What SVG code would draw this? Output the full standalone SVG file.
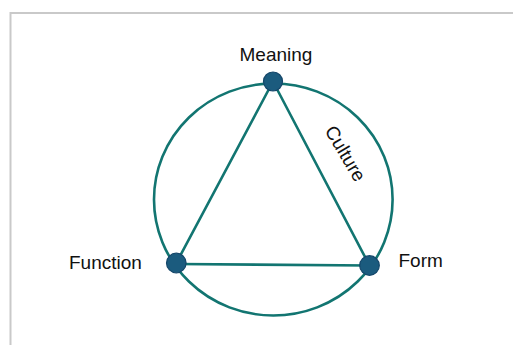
<svg xmlns="http://www.w3.org/2000/svg" width="513" height="345" viewBox="0 0 513 345">
  <style>
    .frame { fill: none; stroke: #c9c9c9; stroke-width: 2; }
    .ring { fill: none; stroke: #127571; stroke-width: 2.6; }
    .edge { stroke: #127571; stroke-width: 2.6; stroke-linecap: round; }
    .dot { fill: #1b5b7e; stroke: #15476a; stroke-width: 1.2; }
    .label { font-family: "Liberation Sans", Arial, sans-serif; font-size: 19px; fill: #111; }
  </style>
  <rect width="513" height="345" fill="#ffffff"/>
  <!-- page frame -->
  <path class="frame" d="M10.5 345 V13 H513"/>

  <!-- outer ring -->
  <ellipse id="ring" class="ring" cx="273.3" cy="199.5" rx="119.3" ry="116"/>

  <g id="connectors">
    <line class="edge" x1="273" y1="81.5" x2="176.3" y2="263"/>
    <line class="edge" x1="273" y1="81.5" x2="369.5" y2="265.5"/>
    <line class="edge" x1="176.3" y1="264" x2="369.5" y2="265.5"/>
  </g>

  <g id="meaning">
    <circle class="dot" cx="273" cy="81.5" r="9.5"/>
    <text class="label" x="276" y="60.5" text-anchor="middle">Meaning</text>
  </g>
  <g id="function">
    <circle class="dot" cx="176.3" cy="263" r="9.8"/>
    <text class="label" x="69" y="268.5">Function</text>
  </g>
  <g id="form">
    <circle class="dot" cx="369.5" cy="265.5" r="9.8"/>
    <text class="label" x="398.5" y="266.8">Form</text>
  </g>
  <g id="culture">
    <text class="label" font-size="17" text-anchor="middle" dominant-baseline="central" transform="translate(345.5 153.5) rotate(59.5)">Culture</text>
  </g>
</svg>
